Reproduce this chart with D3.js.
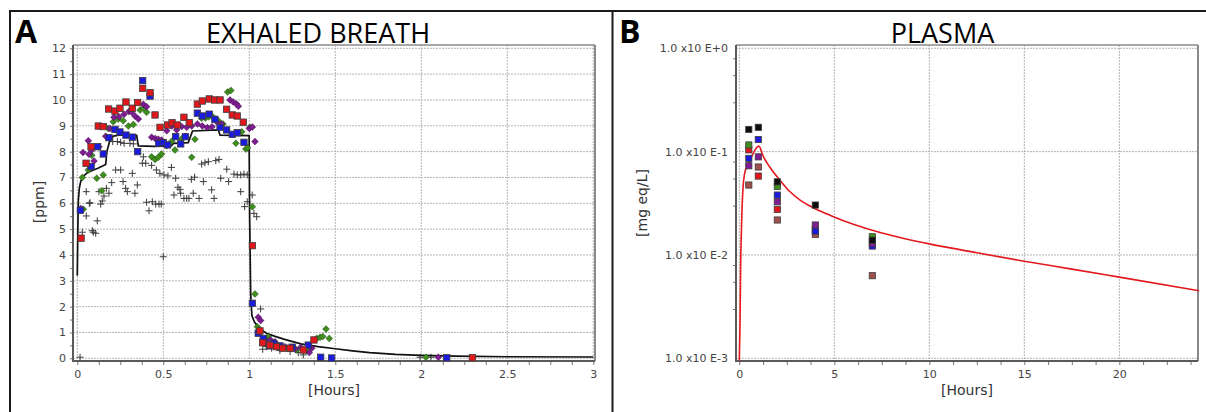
<!DOCTYPE html>
<html>
<head>
<meta charset="utf-8">
<script src="https://cdn.jsdelivr.net/npm/d3@7/dist/d3.min.js"></script>
<style>
  body { margin: 0; background: #fff; }
  svg { display: block; }
</style>
</head>
<body>
<svg id="chart" width="1206" height="412"></svg>
<script>
// ---------- Panel A: exhaled breath [hours, ppm] ----------
const breathRed = [[0.022,4.65],[0.051,7.55],[0.08,8.19],[0.122,8.99],[0.151,8.97],[0.182,9.65],[0.219,9.57],[0.248,9.68],[0.283,9.92],[0.32,9.68],[0.351,9.9],[0.38,10.45],[0.423,10.28],[0.452,9.42],[0.481,8.94],[0.525,9.03],[0.551,9.12],[0.581,9.03],[0.62,9.33],[0.651,9.12],[0.698,9.84],[0.727,9.96],[0.767,10.04],[0.799,10.0],[0.83,10.0],[0.868,9.64],[0.901,9.42],[0.93,9.38],[0.965,9.14],[1.018,4.36],[1.062,1.06],[1.078,0.6],[1.12,0.51],[1.159,0.45],[1.194,0.39],[1.237,0.39],[1.314,0.32],[1.376,0.71],[2.297,0.02]];
const breathBlue = [[0.018,5.73],[0.08,7.42],[0.118,8.19],[0.151,7.91],[0.184,8.54],[0.219,8.86],[0.248,8.76],[0.283,8.64],[0.32,8.56],[0.351,8.0],[0.38,10.75],[0.423,10.15],[0.473,8.32],[0.5,8.35],[0.525,8.26],[0.572,8.58],[0.601,8.3],[0.628,8.58],[0.698,9.49],[0.727,9.38],[0.767,9.45],[0.8,9.25],[0.83,8.94],[0.868,8.84],[0.901,8.67],[0.93,8.73],[0.969,8.36],[1.018,2.13],[1.052,0.97],[1.081,0.77],[1.116,0.48],[1.14,0.58],[1.178,0.48],[1.25,0.43],[1.343,0.51],[1.415,0.04],[1.479,0.01],[2.148,0.02]];
const breathPurple = [[0.02,5.8],[0.033,7.97],[0.064,8.42],[0.068,7.9],[0.084,8.06],[0.097,7.64],[0.126,8.19],[0.165,8.6],[0.19,8.9],[0.213,9.33],[0.242,9.35],[0.272,9.45],[0.3,9.55],[0.316,9.53],[0.335,9.38],[0.355,9.26],[0.384,9.83],[0.403,9.74],[0.432,8.56],[0.453,8.51],[0.471,8.48],[0.49,8.45],[0.52,8.81],[0.549,8.99],[0.578,8.84],[0.607,8.97],[0.636,8.94],[0.665,8.99],[0.698,9.07],[0.727,8.99],[0.756,8.93],[0.783,8.96],[0.81,9.16],[0.839,9.07],[0.888,10.0],[0.907,9.92],[0.926,9.84],[0.936,9.76],[1.0,8.9],[1.018,8.95],[1.033,8.39],[1.052,1.59],[1.066,1.46],[1.097,0.71],[1.124,0.71],[1.149,0.64],[1.207,0.45],[1.266,0.36],[1.299,0.43],[1.349,0.22],[1.363,0.39],[2.099,0.04]];
const breathGreen = [[0.029,7.0],[0.035,5.77],[0.064,7.29],[0.084,7.86],[0.113,6.97],[0.142,6.49],[0.151,7.1],[0.18,8.9],[0.209,9.16],[0.238,9.26],[0.267,9.2],[0.297,8.99],[0.326,9.05],[0.365,9.61],[0.384,9.68],[0.403,9.52],[0.432,7.8],[0.452,7.7],[0.471,7.78],[0.49,7.91],[0.52,8.23],[0.549,8.4],[0.568,8.06],[0.607,8.5],[0.63,8.6],[0.665,7.78],[0.684,8.48],[0.723,9.29],[0.746,9.3],[0.765,9.35],[0.791,9.33],[0.82,9.2],[0.847,9.07],[0.874,10.31],[0.893,10.37],[0.922,8.32],[0.956,8.77],[0.98,8.1],[0.99,8.15],[1.004,8.94],[1.018,5.87],[1.033,2.49],[1.047,1.22],[1.058,1.1],[1.11,0.84],[1.159,0.51],[1.221,0.39],[1.275,0.32],[1.334,0.29],[1.392,0.77],[1.411,0.81],[1.427,0.84],[1.446,1.13],[1.465,0.77],[2.027,0.04]];
const breathCross = [[0.016,0.04],[0.029,4.88],[0.052,6.45],[0.052,5.51],[0.07,6.0],[0.074,6.02],[0.087,4.94],[0.093,4.88],[0.107,4.84],[0.116,5.32],[0.126,6.45],[0.136,5.97],[0.145,6.09],[0.155,6.28],[0.169,6.58],[0.184,6.39],[0.2,6.8],[0.206,8.39],[0.223,7.29],[0.233,8.39],[0.252,7.29],[0.252,8.36],[0.266,6.84],[0.272,8.32],[0.281,6.58],[0.291,6.45],[0.306,8.32],[0.32,7.16],[0.326,8.3],[0.335,6.39],[0.349,6.71],[0.378,7.55],[0.384,7.8],[0.398,7.55],[0.403,6.04],[0.417,5.71],[0.432,7.47],[0.436,6.06],[0.456,5.97],[0.46,7.29],[0.475,5.97],[0.48,7.16],[0.488,5.97],[0.5,3.93],[0.504,7.1],[0.527,7.06],[0.547,7.39],[0.562,6.32],[0.572,6.97],[0.585,6.62],[0.597,6.54],[0.601,6.39],[0.62,6.19],[0.636,6.19],[0.649,6.19],[0.663,6.93],[0.674,6.39],[0.682,7.01],[0.708,6.19],[0.723,7.52],[0.733,6.84],[0.742,7.57],[0.762,7.61],[0.781,6.52],[0.795,6.19],[0.805,7.65],[0.824,7.7],[0.834,6.97],[0.869,7.32],[0.88,6.84],[0.911,7.13],[0.93,7.1],[0.95,7.1],[0.95,6.45],[0.969,7.13],[0.973,5.87],[0.988,7.1],[0.988,6.06],[1.017,6.32],[1.027,5.61],[1.043,5.48],[1.066,1.91],[1.078,0.35],[1.101,0.45],[1.13,0.39],[1.178,0.3],[1.237,0.26],[1.285,0.22],[1.314,0.13],[1.993,0.04],[2.056,0.04]];
const breathModel = [[0.0,3.2],[0.003,5.0],[0.006,6.1],[0.012,6.6],[0.02,6.85],[0.035,7.05],[0.058,7.18],[0.09,7.28],[0.12,7.36],[0.15,7.45],[0.165,7.5],[0.172,8.0],[0.19,8.45],[0.21,8.6],[0.25,8.65],[0.345,8.63],[0.355,8.22],[0.45,8.2],[0.545,8.22],[0.56,8.32],[0.645,8.35],[0.67,8.8],[0.82,8.84],[0.83,8.64],[0.999,8.62],[1.002,5.5],[1.008,2.5],[1.015,1.65],[1.03,1.4],[1.06,1.15],[1.1,0.97],[1.15,0.85],[1.2,0.74],[1.3,0.56],[1.4,0.45],[1.5,0.37],[1.6,0.29],[1.7,0.22],[1.85,0.15],[2.0,0.11],[2.2,0.08],[2.5,0.06],[3.0,0.05]];

const breathXTicks = [0, 0.5, 1, 1.5, 2, 2.5, 3];
const breathYTicks = d3.range(0, 13);

// ---------- Panel B: plasma [hours, mg eq/L] ----------
const plasmaGreen = [[0.5,0.116],[2,0.046],[7,0.015]];
const plasmaBrown = [[0.5,0.0475],[1,0.071],[2,0.0218],[4,0.0158],[7,0.0063]];
const plasmaBlue = [[0.5,0.086],[1,0.131],[2,0.038],[4,0.017],[7,0.0122]];
const plasmaRed = [[0.5,0.104],[1,0.058],[2,0.0276],[4,0.0177]];
const plasmaPurple = [[0.5,0.073],[1,0.089],[2,0.0327],[4,0.0195],[7,0.0129]];
const plasmaBlack = [[0.5,0.164],[1,0.172],[2,0.051],[4,0.0304],[7,0.0139]];
const plasmaModel = [[0.0,0.00095],[0.035,0.002],[0.07,0.0077],[0.12,0.02],[0.18,0.04],[0.3,0.064],[0.47,0.074],[0.73,0.096],[0.95,0.111],[1.03,0.113],[1.26,0.09],[1.6,0.071],[2.13,0.053],[2.6,0.042],[3.2,0.034],[3.87,0.0288],[4.92,0.0236],[6.0,0.0198],[7.5,0.0163],[8.5,0.0147],[10,0.0128],[12.5,0.0105],[15,0.0087],[17.5,0.0073],[20,0.0061],[24.2,0.0045]];

const plasmaXTicks = [0, 5, 10, 15, 20];
const plasmaYTicks = [1, 0.1, 0.01, 0.001];
const plasmaYLabels = ["1.0 x10 E+0", "1.0 x10 E-1", "1.0 x10 E-2", "1.0 x10 E-3"];

const svg = d3.select('#chart');
const tickFont = '"DejaVu Sans", Verdana, sans-serif';
const titleFont = '"Open Sans", "Noto Sans", sans-serif';

// Outer frame (top, left, divider)
svg.append('line').attr('x1', 9).attr('x2', 1206).attr('y1', 11).attr('y2', 11)
  .attr('stroke', '#1a1a1a').attr('stroke-width', 2);
svg.append('line').attr('x1', 10).attr('x2', 10).attr('y1', 10).attr('y2', 412)
  .attr('stroke', '#1a1a1a').attr('stroke-width', 2);
svg.append('line').attr('x1', 612.5).attr('x2', 612.5).attr('y1', 10).attr('y2', 412)
  .attr('stroke', '#1a1a1a').attr('stroke-width', 2);

// Scales
const xA = d3.scaleLinear().domain([-0.025, 3.01]).range([73, 595]);
const yA = d3.scaleLinear().domain([-0.105, 12.128]).range([361, 45]);
const xB = d3.scaleLinear().domain([-0.174, 24.14]).range([736, 1198]);
const yB = d3.scaleLog().domain([Math.pow(10, -3.0261), Math.pow(10, 0.0319)]).range([361, 45]);

function drawFrame(x, y, xTicks, yTicks, xMinor, yMinor, yFormat, yPad) {
  const [x0, x1] = x.range();
  const [y0, y1] = y.range();
  const g = svg.append('g');

  // dotted grid
  g.selectAll('.vg').data(xTicks).enter().append('line')
    .attr('x1', d => x(d)).attr('x2', d => x(d))
    .attr('y1', y1).attr('y2', y0)
    .attr('stroke', '#b4b4b4').attr('stroke-width', 1).attr('stroke-dasharray', '2,1');
  g.selectAll('.hg').data(yTicks).enter().append('line')
    .attr('x1', x0).attr('x2', x1)
    .attr('y1', d => y(d)).attr('y2', d => y(d))
    .attr('stroke', '#b4b4b4').attr('stroke-width', 1).attr('stroke-dasharray', '2,1');

  // top / right border
  g.append('line').attr('x1', x0).attr('x2', x1).attr('y1', y1).attr('y2', y1)
    .attr('stroke', '#8a8a8a').attr('stroke-width', 1.5);
  g.append('line').attr('x1', x1).attr('x2', x1).attr('y1', y1).attr('y2', y0)
    .attr('stroke', '#8a8a8a').attr('stroke-width', 2);

  // minor ticks
  const xm = g.append('g').attr('transform', `translate(0,${y0})`)
    .call(d3.axisBottom(x).tickValues(xMinor).tickSize(4).tickFormat(''));
  xm.select('.domain').remove();
  xm.selectAll('line').attr('stroke', '#777');
  const ym = g.append('g').attr('transform', `translate(${x0},0)`)
    .call(d3.axisLeft(y).tickValues(yMinor).tickSize(3).tickFormat(''));
  ym.select('.domain').remove();
  ym.selectAll('line').attr('stroke', '#777');

  // labels
  const xa = g.append('g').attr('transform', `translate(0,${y0})`)
    .call(d3.axisBottom(x).tickValues(xTicks).tickSize(0).tickPadding(9).tickFormat(d3.format('')));
  xa.select('.domain').remove();
  xa.selectAll('text').attr('font-family', tickFont).attr('font-size', 11).attr('fill', '#444');
  const ya = g.append('g').attr('transform', `translate(${x0},0)`)
    .call(d3.axisLeft(y).tickValues(yTicks).tickSize(0).tickPadding(yPad).tickFormat(yFormat));
  ya.select('.domain').remove();
  ya.selectAll('text').attr('font-family', tickFont).attr('font-size', 11).attr('fill', '#444');

  // axis lines
  g.append('line').attr('x1', x0).attr('x2', x1).attr('y1', y0).attr('y2', y0)
    .attr('stroke', '#5a5a5a').attr('stroke-width', 2);
  g.append('line').attr('x1', x0).attr('x2', x0).attr('y1', y1).attr('y2', y0 + 1)
    .attr('stroke', '#5a5a5a').attr('stroke-width', 2);
}

// Panel A frame
drawFrame(xA, yA, breathXTicks, breathYTicks,
  d3.range(0, 3.01, 0.125), d3.range(0, 12.01, 0.5), d3.format(''), 7);

// Panel B frame
const logMinor = [];
plasmaYTicks.slice(0, 3).forEach(t => [0.8, 0.55, 0.3].forEach(m => logMinor.push(t * m)));
drawFrame(xB, yB, plasmaXTicks, plasmaYTicks,
  d3.range(0, 24.1, 1.25), logMinor, (d, i) => plasmaYLabels[i], 8);

// ---------- Panel A marks ----------
const gA = svg.append('g');
const crossPath = 'M-3.5,0H3.5M0,-3.5V3.5';
const diamondPath = 'M0,-3.5L3.5,0L0,3.5L-3.5,0Z';

gA.selectAll('.cross').data(breathCross).enter().append('path')
  .attr('d', crossPath)
  .attr('transform', d => `translate(${xA(d[0])},${yA(d[1])})`)
  .attr('stroke', '#3a3a3a').attr('stroke-width', 1).attr('fill', 'none');

const lineA = d3.line().x(d => xA(d[0])).y(d => yA(d[1]));
gA.append('path').datum(breathModel).attr('d', lineA)
  .attr('fill', 'none').attr('stroke', '#111').attr('stroke-width', 1.7);

function diamonds(data, color) {
  gA.selectAll(null).data(data).enter().append('path')
    .attr('d', diamondPath)
    .attr('transform', d => `translate(${xA(d[0])},${yA(d[1])})`)
    .attr('fill', color).attr('stroke', 'rgba(0,0,0,0.45)').attr('stroke-width', 0.6);
}
function squaresA(data, color) {
  gA.selectAll(null).data(data).enter().append('rect')
    .attr('x', d => xA(d[0]) - 3.2).attr('y', d => yA(d[1]) - 3.2)
    .attr('width', 6.4).attr('height', 6.4)
    .attr('fill', color).attr('stroke', '#3c3c3c').attr('stroke-width', 0.8);
}
diamonds(breathGreen, '#3f8f1f');
diamonds(breathPurple, '#7e1c92');
squaresA(breathBlue, '#1b1be0');
squaresA(breathRed, '#e2171c');

// ---------- Panel B marks ----------
const gB = svg.append('g');
const lineB = d3.line().curve(d3.curveMonotoneX).x(d => xB(d[0])).y(d => yB(d[1]));
gB.append('path').datum(plasmaModel).attr('d', lineB)
  .attr('fill', 'none').attr('stroke', '#e3191e').attr('stroke-width', 1.6);

function squaresB(data, color) {
  gB.selectAll(null).data(data).enter().append('rect')
    .attr('x', d => xB(d[0]) - 3.1).attr('y', d => yB(d[1]) - 3.1)
    .attr('width', 6.2).attr('height', 6.2)
    .attr('fill', color).attr('stroke', '#3c3c3c').attr('stroke-width', 0.8);
}
squaresB(plasmaRed, '#e2171c');
squaresB(plasmaGreen, '#3f8f1f');
squaresB(plasmaBrown, '#a0504a');
squaresB(plasmaBlue, '#1b1be0');
squaresB(plasmaPurple, '#7e1c92');
squaresB(plasmaBlack, '#0d0d0d');

// ---------- Titles and axis names ----------
svg.append('text').attr('x', 15).attr('y', 43).text('A')
  .attr('font-family', titleFont).attr('font-weight', 'bold').attr('font-size', 32).attr('fill', '#000');
svg.append('text').attr('x', 619).attr('y', 43).text('B')
  .attr('font-family', titleFont).attr('font-weight', 'bold').attr('font-size', 32).attr('fill', '#000');
svg.append('text').attr('x', 318).attr('y', 43).attr('text-anchor', 'middle').text('EXHALED BREATH')
  .attr('font-family', titleFont).attr('font-size', 27).attr('fill', '#000');
svg.append('text').attr('x', 942.5).attr('y', 43).attr('text-anchor', 'middle').text('PLASMA')
  .attr('font-family', titleFont).attr('font-size', 27).attr('fill', '#000');

function axisName(x, y, text, rotate) {
  svg.append('text')
    .attr('transform', `translate(${x},${y})` + (rotate ? ' rotate(-90)' : ''))
    .attr('text-anchor', 'middle')
    .attr('font-family', tickFont).attr('font-size', 14).attr('fill', '#333')
    .text(text);
}
axisName(334, 395, '[Hours]', false);
axisName(967, 395, '[Hours]', false);
axisName(44, 202, '[ppm]', true);
axisName(647, 203, '[mg eq/L]', true);
</script>
</body>
</html>
